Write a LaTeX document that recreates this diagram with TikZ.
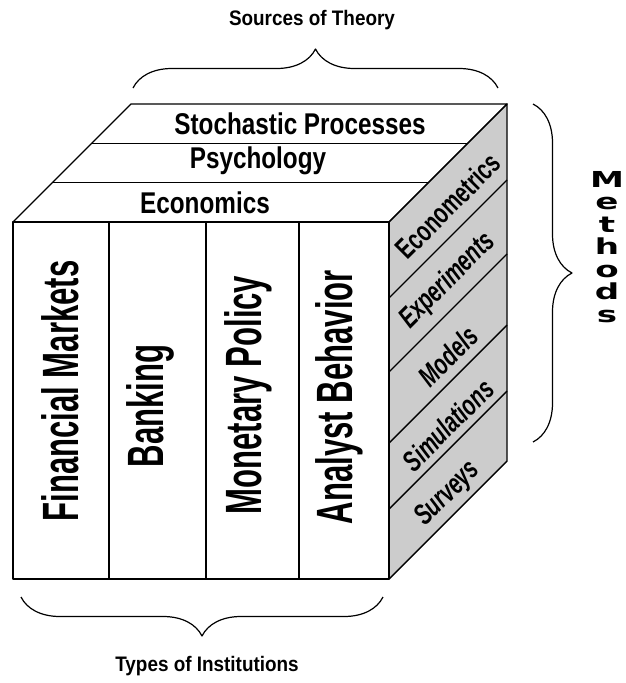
\documentclass[tikz,border=0pt]{standalone}
\usepackage{fontspec}
\setmainfont{Liberation Sans}
\newfontfamily\capfont{Liberation Sans}[FakeStretch=0.9]
\newfontfamily\colfont{Liberation Sans}[FakeStretch=0.61]
\newfontfamily\sidefont{Liberation Sans}[FakeStretch=0.7]
\newfontfamily\topfont{Liberation Sans}[FakeStretch=0.81]
\newfontfamily\widefont{DejaVu Sans}[FakeStretch=1.55]
\usetikzlibrary{decorations.pathreplacing}
\definecolor{sidegray}{gray}{0.8}

\begin{document}
\begin{tikzpicture}[x=1pt, y=-1pt, line join=round,
    edge/.style={line width=1.4pt},
    brace/.style={decorate, decoration={brace, amplitude=39pt}, line width=1.2pt},
    caption/.style={font=\capfont\bfseries\fontsize{21}{24}\selectfont},
    strip/.style={font=\topfont\bfseries\fontsize{30}{32}\selectfont},
    column/.style={rotate=90, font=\colfont\bfseries\fontsize{51}{54}\selectfont},
    method/.style={rotate=45, font=\sidefont\bfseries\fontsize{29}{31}\selectfont},
    tilted/.style={method, font=\sidefont\bfseries\itshape\fontsize{29}{31}\selectfont}]
  \fill[white] (0,0) rectangle (626,683);
  \useasboundingbox (0,0) rectangle (626,683);

  % corners of the cube
  \coordinate (ftl) at (13,222);
  \coordinate (ftr) at (389,222);
  \coordinate (fbr) at (389,579);
  \coordinate (fbl) at (13,579);
  \coordinate (btl) at (131,104);
  \coordinate (btr) at (507,104);
  \coordinate (bbr) at (507,461);

  % side face, cut into five bands
  \filldraw[edge, fill=sidegray] (ftr) -- (btr) -- (bbr) -- (fbr) -- cycle;
  \foreach \y in {180,254,325,391}
    \draw[edge] (389,\y+118) -- (507,\y);

  % top face, three strips
  \draw[edge] (ftl) -- (btl) -- (btr) -- (ftr) -- cycle;
  \foreach \y in {143.3,182.7}
    \draw[edge] (235-\y,\y) -- (611-\y,\y);

  % front face, four columns
  \draw[edge] (ftl) -- (ftr) -- (fbr) -- (fbl) -- cycle;
  \foreach \x in {109,206,299}
    \draw[edge] (\x,222) -- (\x,579);

  \node[strip] (stoch) at (300,124) {Stochastic Processes};
  \node[strip] (psych) at (258,161) {Psychology};
  \node[strip] (econ) at (205,203) {Economics};

  \node[column] (fin) at (60,391) {Financial Markets};
  \node[column] (bank) at (150,406) {Banking};
  \node[column] (money) at (248,395) {Monetary Policy};
  \node[column] (analyst) at (339,397) {Analyst Behavior};

  \node[method] (ecmt) at (448,206) {Econometrics};
  \node[tilted] (expt) at (448,281) {Experiments};
  \node[tilted] (model) at (448,356) {Models};
  \node[tilted] (simu) at (448,425) {Simulations};
  \node[tilted] (surv) at (448,494) {Surveys};

  % braces and their titles
  \draw[brace] (133,88) -- (498,88);
  \draw[brace] (533,104) -- (533,442);
  \draw[brace] (383,597) -- (21,597);

  \node[caption] (theory) at (312,20) {Sources of Theory};
  \node[caption] (inst) at (207,666) {Types of Institutions};
  \node[font=\widefont\bfseries\fontsize{22}{22.5}\selectfont, align=center] (meth) at (607,247) {M\\e\\t\\h\\o\\d\\s};
\end{tikzpicture}
\end{document}
